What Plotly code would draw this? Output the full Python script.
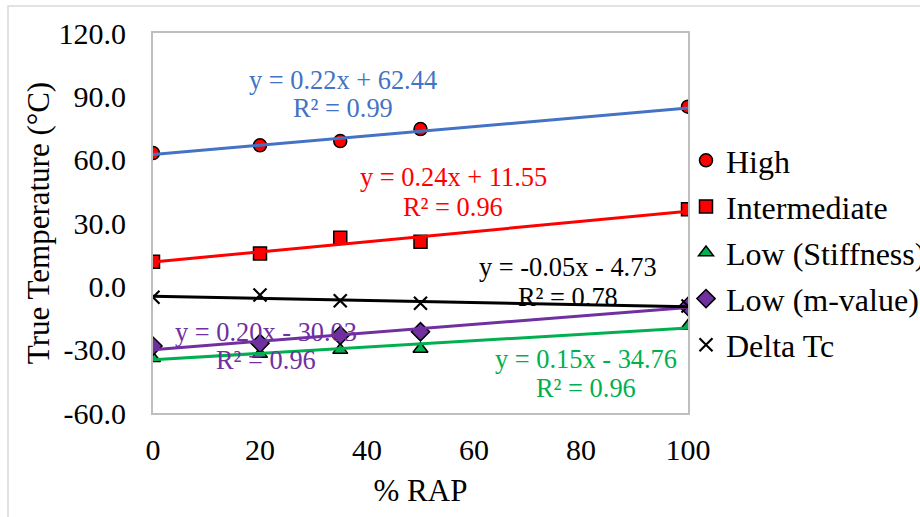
import plotly.graph_objects as go

# ---- data ----
rap = [0, 20, 35, 50, 100]
high = [63.1, 66.8, 68.8, 74.5, 85.1]
intermediate = [11.7, 15.6, 23.0, 21.1, 36.5]
low_stiffness = [-34.1, -32.1, -30.2, -29.7, -18.8]
low_mvalue = [-28.3, -27.0, -23.2, -21.5, -9.5]
delta_tc = [-5.2, -4.1, -6.8, -8.0, -9.3]

series_names = ["High", "Intermediate", "Low (Stiffness)", "Low (m-value)", "Delta Tc"]
series_values = [high, intermediate, low_stiffness, low_mvalue, delta_tc]

# trendline coefficients (slope, intercept, R²) as printed on the chart
slopes = [0.22, 0.24, 0.15, 0.20, -0.05]
intercepts = [62.44, 11.55, -34.76, -30.03, -4.73]
r_squared = [0.99, 0.96, 0.96, 0.96, 0.78]

x_ticks = [0, 20, 40, 60, 80, 100]
y_ticks = [-60, -30, 0, 30, 60, 90, 120]
y_tick_labels = ["-60.0", "-30.0", "0.0", "30.0", "60.0", "90.0", "120.0"]

# ---- styles ----
colors = ["#4472C4", "#FF0000", "#00B050", "#7030A0", "#000000"]
marker_fill = ["#FF0000", "#FF0000", "#00B050", "#7030A0", "#000000"]
symbols = ["circle", "square", "triangle-up", "diamond", "x-thin"]
sizes = [13, 13, 13, 14, 13]
FONT = "Liberation Serif, Times New Roman, serif"

fig = go.Figure()

for i, (name, vals) in enumerate(zip(series_names, series_values)):
    if symbols[i] == "x-thin":
        mk = dict(symbol="x-thin", size=sizes[i], color="#000000",
                  line=dict(color="#000000", width=2.2))
    else:
        mk = dict(symbol=symbols[i], size=sizes[i], color=marker_fill[i],
                  line=dict(color="#000000", width=1.5))
    fig.add_trace(go.Scatter(x=rap, y=vals, mode="markers", name=name,
                             marker=mk, legendgroup=name, showlegend=True))

# trendlines drawn over markers
x0, x1 = rap[0], rap[-1]
for i in range(5):
    fig.add_trace(go.Scatter(
        x=[x0, x1],
        y=[slopes[i] * x0 + intercepts[i], slopes[i] * x1 + intercepts[i]],
        mode="lines", line=dict(color=colors[i], width=3),
        showlegend=False, hoverinfo="skip"))

# equation labels (positions in data coords)
label_pos = [  # (x, y_eq, y_r2)
    (35.5, 97.7, 84.5),
    (56.1, 51.8, 37.6),
    (80.9, -34.4, -48.2),
    (21.1, -21.6, -34.9),
    (77.6, 9.2, -5.05),
]


def fmt_eq(m, b):
    sign = "+" if b >= 0 else "-"
    return f"y = {m:.2f}x {sign} {abs(b):.2f}"


for i in range(5):
    lx, ly1, ly2 = label_pos[i]
    fig.add_annotation(x=lx, y=ly1, text=fmt_eq(slopes[i], intercepts[i]),
                       showarrow=False, xanchor="center", yanchor="middle",
                       font=dict(family=FONT, size=26.4, color=colors[i]))
    fig.add_annotation(x=lx, y=ly2, text=f"R² = {r_squared[i]:.2f}",
                       showarrow=False, xanchor="center", yanchor="middle",
                       font=dict(family=FONT, size=26.4, color=colors[i]))

L, R, T, B = 153, 232, 33, 104
W, H = 920, 517
pw, ph = W - L - R, H - T - B
y_bottom_px = T + ph

# outer chart border (light grey), partly off-canvas
fig.add_shape(type="rect", xref="paper", yref="paper",
              x0=(8 - L) / pw, x1=(935 - L) / pw,
              y0=(y_bottom_px - 535) / ph, y1=(y_bottom_px - 6) / ph,
              line=dict(color="#D9D9D9", width=1.5), fillcolor="rgba(0,0,0,0)",
              layer="below")

fig.update_layout(
    width=W, height=H,
    margin=dict(l=L, r=R, t=T, b=B, autoexpand=False),
    paper_bgcolor="white", plot_bgcolor="white",
    font=dict(family=FONT, size=30, color="#000000"),
    showlegend=True,
    legend=dict(x=(686 - L) / pw, xanchor="left", y=(y_bottom_px - 133) / ph, yanchor="top",
                font=dict(family=FONT, size=32, color="#000000"),
                bgcolor="rgba(0,0,0,0)", tracegroupgap=1.5, itemwidth=30),
    xaxis=dict(range=[0, 100], tickvals=x_ticks, showgrid=False, zeroline=False,
               showline=True, mirror=True, linecolor="#BFBFBF", linewidth=2,
               ticks="", ticklabelstandoff=9,
               tickfont=dict(family=FONT, size=30, color="#000000"),
               title=dict(text="% RAP", standoff=14,
                          font=dict(family=FONT, size=31, color="#000000"))),
    yaxis=dict(range=[-60, 120], tickvals=y_ticks, ticktext=y_tick_labels,
               showgrid=False, zeroline=False,
               showline=True, mirror=True, linecolor="#BFBFBF", linewidth=2,
               ticks="", ticklabelstandoff=19,
               tickfont=dict(family=FONT, size=30, color="#000000"),
               title=dict(text="True Temperature (°C)", standoff=0,
                          font=dict(family=FONT, size=31, color="#000000"))),
)

fig.write_html("out.html")
